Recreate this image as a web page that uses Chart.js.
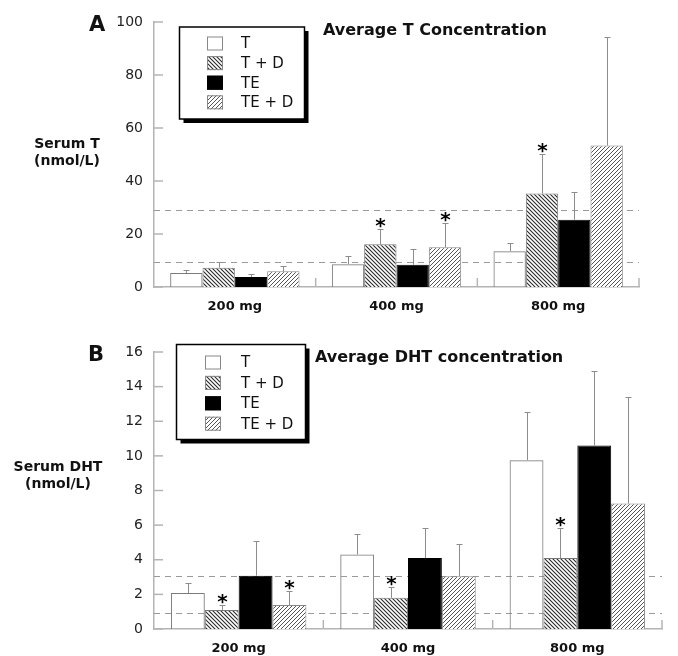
<!DOCTYPE html>
<html>
<head>
<meta charset="utf-8">
<script src="https://cdn.jsdelivr.net/npm/chart.js@4.4.0/dist/chart.umd.min.js"></script>
<style>
body{margin:0;background:#fff;}
#wrap{position:relative;width:678px;height:656px;}
canvas{position:absolute;left:0;}
</style>
</head>
<body>
<div id="wrap">
<canvas id="chartA" width="678" height="318" style="top:0;width:678px;height:318px"></canvas>
<canvas id="chartB" width="678" height="338" style="top:318px;width:678px;height:338px"></canvas>
</div>
<script>
var doses = ['200 mg', '400 mg', '800 mg'];
var groups = ['T', 'T + D', 'TE', 'TE + D'];

// panel A : serum T (nmol/L), mean and upper SD per group
var serumT_T = [5.3, 8.6, 13.5];
var serumT_TD = [7.3, 16.1, 35.3];
var serumT_TE = [3.8, 8.4, 25.4];
var serumT_TED = [5.9, 15.0, 53.4];
var sdT_T = [1.2, 3.2, 3.0];
var sdT_TD = [2.2, 5.9, 15.0];
var sdT_TE = [1.1, 5.9, 10.6];
var sdT_TED = [1.9, 9.0, 41.0];
var sigT_TD = [false, true, true];
var sigT_TED = [false, true, false];
var normalT = [9.4, 29.0];
var ticksT = [0, 100, 20];

// panel B : serum DHT (nmol/L)
var dht_T = [2.08, 4.3, 9.75];
var dht_TD = [1.1, 1.8, 4.1];
var dht_TE = [3.08, 4.1, 10.6];
var dht_TED = [1.38, 3.04, 7.25];
var sdD_T = [0.6, 1.2, 2.8];
var sdD_TD = [0.3, 0.6, 1.75];
var sdD_TE = [2.0, 1.75, 4.3];
var sdD_TED = [0.8, 1.85, 6.15];
var sigD_TD = [true, true, true];
var sigD_TED = [true, false, false];
var normalD = [0.9, 3.05];
var ticksD = [0, 16, 2];

var F = '"DejaVu Sans", sans-serif';

function hatch(ctx, dir, size, color, lw) {
	var c = document.createElement('canvas');
	c.width = size; c.height = size;
	var g = c.getContext('2d');
	g.fillStyle = '#fff';
	g.fillRect(0, 0, size, size);
	g.strokeStyle = color;
	g.lineWidth = lw;
	g.beginPath();
	if (dir == 'down') {
		g.moveTo(-1, -1); g.lineTo(size + 1, size + 1);
		g.moveTo(-1, size - 1); g.lineTo(1, size + 1);
		g.moveTo(size - 1, -1); g.lineTo(size + 1, 1);
	} else {
		g.moveTo(-1, size + 1); g.lineTo(size + 1, -1);
		g.moveTo(-1, 1); g.lineTo(1, -1);
		g.moveTo(size - 1, size + 1); g.lineTo(size + 1, size - 1);
	}
	g.stroke();
	return ctx.createPattern(c, 'repeat');
}

function panel(id, cfg) {
	var ctx = document.getElementById(id).getContext('2d');
	var fills = ['rgba(255,255,255,0)', hatch(ctx, 'down', 4, '#2a2a2a', 1.1), '#000', hatch(ctx, 'up', 4, '#555', 1)];
	var borders = ['#7a7a7a', '#777', '#000', '#888'];
	var swatchFill = ['#fff', fills[1], '#000', fills[3]];

	var datasets = [];
	for (var i = 0; i < groups.length; i++) {
		datasets.push({
			label: groups[i],
			data: cfg.means[i],
			backgroundColor: fills[i],
			borderColor: borders[i],
			borderWidth: 1,
			categoryPercentage: 0.8,
			barPercentage: 1.0
		});
	}

	var deco = {
		id: 'deco',
		beforeDatasetsDraw: function(chart) {
			var c = chart.ctx, a = chart.chartArea, y = chart.scales.y;
			c.save();
			c.strokeStyle = '#9a9a9a';
			c.lineWidth = 1;
			c.setLineDash([6, 5]);
			cfg.normal.forEach(function(v) {
				var py = Math.round(y.getPixelForValue(v)) + 0.5;
				c.beginPath(); c.moveTo(a.left, py); c.lineTo(a.right, py); c.stroke();
			});
			c.restore();
		},
		afterDatasetsDraw: function(chart) {
			var c = chart.ctx, a = chart.chartArea, y = chart.scales.y, x = chart.scales.x;
			c.save();
			c.strokeStyle = '#8c8c8c';
			c.lineWidth = 1;
			cfg.sd.forEach(function(sd, d) {
				var meta = chart.getDatasetMeta(d);
				meta.data.forEach(function(bar, i) {
					var top = Math.round(y.getPixelForValue(cfg.means[d][i] + sd[i])) + 0.5;
					var px = Math.round(bar.x) + 0.5;
					c.beginPath();
					c.moveTo(px, bar.y); c.lineTo(px, top);
					c.moveTo(px - 3, top); c.lineTo(px + 3, top);
					c.stroke();
					if (cfg.sig[d] && cfg.sig[d][i]) {
						c.fillStyle = '#000';
						c.font = 'bold 20px ' + F;
						c.textAlign = 'center';
						c.textBaseline = 'alphabetic';
						c.fillText('*', px, top + 2);
					}
				});
			});
			// inward tick marks
			c.strokeStyle = '#b4b4b4';
			c.lineWidth = 1.5;
			y.ticks.forEach(function(t) {
				var py = y.getPixelForValue(t.value);
				c.beginPath(); c.moveTo(a.left, py); c.lineTo(a.left + 9, py); c.stroke();
			});
			var seps = [];
			for (var k = 0; k < doses.length - 1; k++) seps.push((x.getPixelForValue(k) + x.getPixelForValue(k + 1)) / 2);
			seps.push(a.right);
			seps.forEach(function(sx) {
				c.beginPath(); c.moveTo(sx, a.bottom); c.lineTo(sx, a.bottom - 9); c.stroke();
			});
			c.restore();
		},
		afterDraw: function(chart) {
			var c = chart.ctx, L = cfg.legend;
			c.save();
			// legend box with drop shadow
			c.fillStyle = '#000';
			c.fillRect(L.x + 4, L.y + 4, L.w, L.h);
			c.fillStyle = '#fff';
			c.fillRect(L.x, L.y, L.w, L.h);
			c.strokeStyle = '#000';
			c.lineWidth = 1.5;
			c.strokeRect(L.x, L.y, L.w, L.h);
			for (var i = 0; i < groups.length; i++) {
				var cy = L.row0 + i * L.gap;
				c.fillStyle = swatchFill[i];
				c.fillRect(L.sx, cy - 7, 16, 14);
				c.strokeStyle = i == 2 ? '#000' : '#888';
				c.lineWidth = 1;
				c.strokeRect(L.sx + 0.5, cy - 6.5, 15, 13);
				c.fillStyle = '#111';
				c.font = '15px ' + F;
				c.textAlign = 'left';
				c.textBaseline = 'middle';
				c.fillText(groups[i], L.tx, cy + 1);
			}
			// letters, title, axis name
			c.fillStyle = '#111';
			c.textBaseline = 'alphabetic';
			cfg.texts.forEach(function(t) {
				c.font = t.font;
				c.textAlign = t.align;
				c.fillText(t.text, t.x, t.y);
			});
			c.restore();
		}
	};

	return new Chart(ctx, {
		type: 'bar',
		data: { labels: doses, datasets: datasets },
		options: {
			responsive: false,
			animation: false,
			devicePixelRatio: 1,
			layout: { padding: { left: 0, right: cfg.padRight, top: cfg.padTop, bottom: 0 } },
			plugins: { legend: { display: false }, tooltip: { enabled: false } },
			scales: {
				x: {
					grid: { display: false, drawTicks: false },
					border: { color: '#b4b4b4', width: 1.5 },
					ticks: { color: '#111', padding: 12, font: { family: F, size: 13, weight: 'bold' } },
					afterFit: function(s) { s.height = cfg.xHeight; }
				},
				y: {
					min: cfg.ticks[0],
					max: cfg.ticks[1],
					grid: { display: false, drawTicks: false },
					border: { color: '#b4b4b4', width: 1.5 },
					ticks: { stepSize: cfg.ticks[2], color: '#222', padding: 11, font: { family: F, size: 14 } },
					afterFit: function(s) { s.width = 154; }
				}
			}
		},
		plugins: [deco]
	});
}

panel('chartA', {
	means: [serumT_T, serumT_TD, serumT_TE, serumT_TED],
	sd: [sdT_T, sdT_TD, sdT_TE, sdT_TED],
	sig: [null, sigT_TD, null, sigT_TED],
	normal: normalT,
	ticks: ticksT,
	padTop: 22, padRight: 39, xHeight: 31,
	legend: { x: 179.5, y: 27, w: 125, h: 92, sx: 207, tx: 241, row0: 43.5, gap: 19.6 },
	texts: [
		{ text: 'A', x: 89, y: 31, font: 'bold 21px ' + F, align: 'left' },
		{ text: 'Average T Concentration', x: 323, y: 35, font: 'bold 16px ' + F, align: 'left' },
		{ text: 'Serum T', x: 67, y: 148, font: 'bold 14px ' + F, align: 'center' },
		{ text: '(nmol/L)', x: 67, y: 165, font: 'bold 14px ' + F, align: 'center' }
	]
});

panel('chartB', {
	means: [dht_T, dht_TD, dht_TE, dht_TED],
	sd: [sdD_T, sdD_TD, sdD_TE, sdD_TED],
	sig: [null, sigD_TD, null, sigD_TED],
	normal: normalD,
	ticks: ticksD,
	padTop: 34, padRight: 16, xHeight: 27,
	legend: { x: 176.5, y: 26.5, w: 129, h: 95, sx: 205, tx: 241, row0: 44.5, gap: 20.4 },
	texts: [
		{ text: 'B', x: 88, y: 43, font: 'bold 21px ' + F, align: 'left' },
		{ text: 'Average DHT concentration', x: 315, y: 44, font: 'bold 16px ' + F, align: 'left' },
		{ text: 'Serum DHT', x: 58, y: 153, font: 'bold 14px ' + F, align: 'center' },
		{ text: '(nmol/L)', x: 58, y: 170, font: 'bold 14px ' + F, align: 'center' }
	]
});
</script>
</body>
</html>
